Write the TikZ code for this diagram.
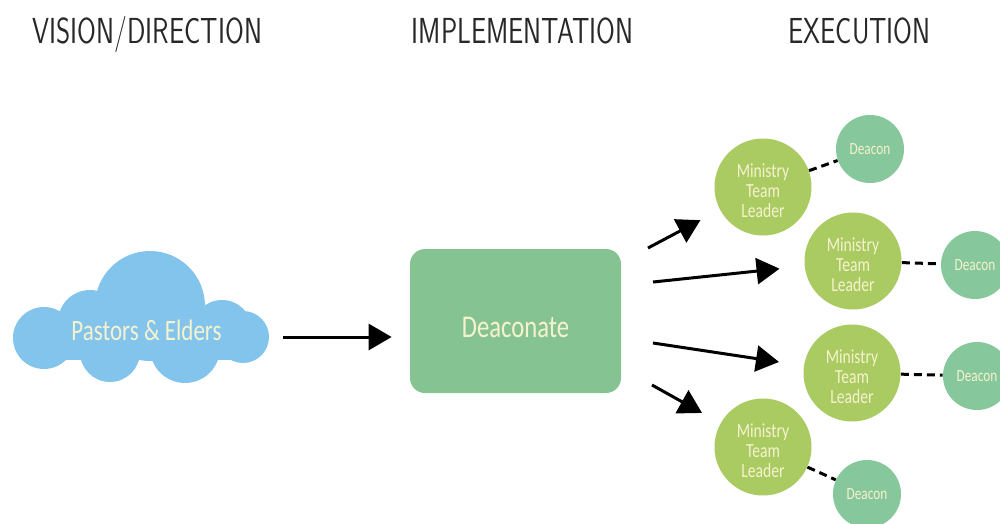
\documentclass[tikz,border=0pt]{standalone}
\usepackage{fontspec}
\setmainfont{Carlito}[FakeStretch=0.78]
\newfontfamily\headfont{lmsans17-regular.otf}[FakeStretch=0.75]
\usetikzlibrary{arrows.meta}
\definecolor{cloudblue}{RGB}{130,196,236}
\definecolor{boxgreen}{RGB}{133,196,146}
\definecolor{leadergreen}{RGB}{169,203,98}
\definecolor{deacongreen}{RGB}{134,199,155}
\definecolor{cream}{RGB}{247,242,206}
\definecolor{headgray}{RGB}{40,40,40}
\newcommand\mtltext{\rule{0pt}{4.4mm}Ministry\\Team\\Leader}
\begin{document}
\begin{tikzpicture}[x=0.2mm,y=-0.2mm,
  every node/.style={text=cream,align=center,inner sep=0pt},
  head/.style={text=headgray,anchor=base,font=\headfont\fontsize{20.6}{20.6}\selectfont},
  leader/.style={circle,fill=leadergreen,minimum size=19.4mm,font=\fontsize{11.4}{11.4}\selectfont},
  deacon/.style={circle,fill=deacongreen,minimum size=13.6mm,font=\fontsize{9.7}{9.7}\selectfont},
  arr/.style={line width=0.6mm,-{Triangle[length=4.6mm,width=5.2mm]}},
  link/.style={line width=0.6mm,dash pattern=on 1.6mm off 1mm}]
\useasboundingbox (0,0) rectangle (1000,523);
\clip (0,0) rectangle (1000,523);
% column titles
\node[head] (vision) at (147.5,43) {VISION/DIRECTION};
\node[head] (implementation) at (522.5,43) {IMPLEMENTATION};
\node[head] (execution) at (859.5,43) {EXECUTION};
% cloud
\foreach \x/\y/\r in {150/306/55,90/322/32,44/338/31,222/330/30,243/337/26,110/352/30,185/348/35}
  \fill[cloudblue] (\x,\y) circle (\r);
\fill[cloudblue] (40,312) rectangle (250,360);
\node[font=\fontsize{16.8}{16.8}\selectfont] (pastors) at (146.5,330.5) {Pastors \& Elders};
% deaconate
\node[fill=boxgreen,rounded corners=3mm,minimum width=42.2mm,minimum height=28.8mm,
  text height=6.7mm,text depth=0pt,font=\fontsize{18}{18}\selectfont] (deaconate) at (515.5,321) {Deaconate};
\coordinate (p1) at (283,337);
\draw[arr,shorten >=3.6mm] (p1) -- (p1 -| deaconate.west);
% ministry team leaders and deacons
\foreach \i/\x/\y in {1/763/187,2/853/261,3/852/373,4/763/447}
  \node[leader] (mtl\i) at (\x,\y) {\mtltext};
\foreach \i/\x/\y in {1/870/149,2/975/265,3/977/376,4/867/494}
  \node[deacon] (dea\i) at (\x,\y) {Deacon};
\foreach \i in {1,...,4}
  \draw[link] (mtl\i) -- (dea\i);
\foreach \i/\x/\y/\g in {1/648/248/4.4,2/653/282/5,3/653/343/5,4/652/385/4.2}{
  \coordinate (s\i) at (\x,\y);
  \draw[arr,shorten >=\g mm] (s\i) -- (mtl\i);
}
\end{tikzpicture}
\end{document}
